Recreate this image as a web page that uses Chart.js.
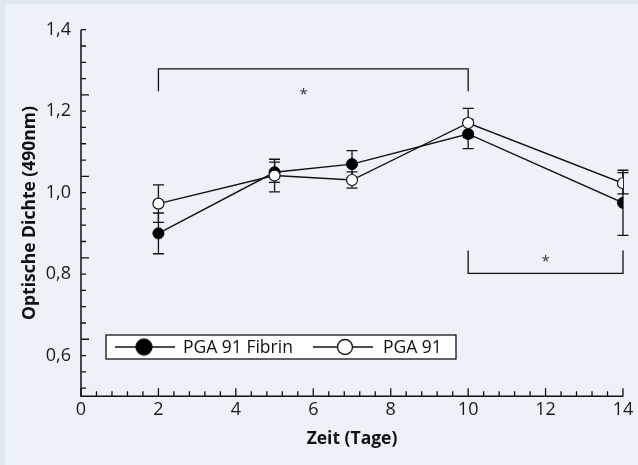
<!DOCTYPE html>
<html>
<head>
<meta charset="utf-8">
<script src="https://cdn.jsdelivr.net/npm/chart.js@4"></script>
<style>
  html, body { margin: 0; padding: 0; background: #dde8f3; }
  #wrap { position: absolute; left: 5px; top: 4px; width: 633px; height: 461px; background: #edf2f9; }
  canvas { position: absolute; left: 0; top: 0; }
</style>
</head>
<body>
<div id="wrap"></div>
<canvas id="chart" width="638" height="465"></canvas>
<script>
// Data
const days = [2, 5, 7, 10, 14];
const fibrinValues = [0.900, 1.050, 1.070, 1.144, 0.975];
const fibrinErrors = [0.050, 0.025, 0.033, 0.036, 0.080];
const pgaValues = [0.973, 1.042, 1.031, 1.171, 1.023];
const pgaErrors = [0.046, 0.040, 0.020, 0.036, 0.026];
const xTicks = [0, 2, 4, 6, 8, 10, 12, 14];
const yTicks = [0.6, 0.8, 1.0, 1.2, 1.4];
const seriesNames = ['PGA 91 Fibrin', 'PGA 91'];
// significance brackets: [xStart, xEnd, yLine, yLegEnd], star at [x, y]
const topBracket = [2, 10, 1.304, 1.249];
const topStar = [5.75, 1.245];
const bottomBracket = [10, 14, 0.802, 0.858];
const bottomStar = [12, 0.836];

const FONT = "'Open Sans', 'Noto Sans', sans-serif";

const fmt = v => v.toFixed(1).replace('.', ',');

// error bars, drawn below the markers
const errorBars = {
  id: 'errorBars',
  beforeDatasetsDraw(chart) {
    const { ctx, scales: { x, y } } = chart;
    ctx.save();
    ctx.strokeStyle = '#111';
    ctx.lineWidth = 1.3;
    [[fibrinValues, fibrinErrors], [pgaValues, pgaErrors]].forEach(([vals, errs]) => {
      vals.forEach((v, i) => {
        const px = x.getPixelForValue(days[i]);
        const top = y.getPixelForValue(v + errs[i]);
        const bot = y.getPixelForValue(v - errs[i]);
        ctx.beginPath();
        ctx.moveTo(px, top); ctx.lineTo(px, bot);
        ctx.moveTo(px - 5.5, top); ctx.lineTo(px + 5.5, top);
        ctx.moveTo(px - 5.5, bot); ctx.lineTo(px + 5.5, bot);
        ctx.stroke();
      });
    });
    ctx.restore();
  }
};

// axes with inward ticks, brackets, legend box
const decorations = {
  id: 'decorations',
  afterDraw(chart) {
    const { ctx, scales: { x, y } } = chart;
    const x0 = x.getPixelForValue(0), x1 = x.getPixelForValue(14);
    const y0 = y.getPixelForValue(0.5), y1 = y.getPixelForValue(1.4);
    ctx.save();
    ctx.strokeStyle = '#111';
    ctx.lineWidth = 1.5;
    ctx.beginPath();
    ctx.moveTo(x0, y1); ctx.lineTo(x0, y0); ctx.lineTo(x1, y0);
    ctx.stroke();
    ctx.lineWidth = 1.3;
    ctx.beginPath();
    for (let i = 0; i <= 35; i++) {
      const px = x.getPixelForValue(i * 0.4);
      const major = i % 5 === 0;
      ctx.moveTo(px, y0); ctx.lineTo(px, y0 - (major ? 8 : 5));
    }
    for (let i = 0; i <= 22; i++) {
      const py = y.getPixelForValue(0.52 + i * 0.04);
      const major = (i + 2) % 5 === 0;
      ctx.moveTo(x0, py); ctx.lineTo(x0 + (major ? 8 : 5), py);
    }
    ctx.stroke();

    // brackets
    [topBracket, bottomBracket].forEach(b => {
      const a = x.getPixelForValue(b[0]), c = x.getPixelForValue(b[1]);
      const l = y.getPixelForValue(b[2]), e = y.getPixelForValue(b[3]);
      ctx.beginPath();
      ctx.moveTo(a, e); ctx.lineTo(a, l); ctx.lineTo(c, l); ctx.lineTo(c, e);
      ctx.stroke();
    });
    ctx.fillStyle = '#333';
    ctx.font = `15px ${FONT}`;
    ctx.textAlign = 'center';
    ctx.textBaseline = 'middle';
    [topStar, bottomStar].forEach(s => {
      ctx.fillText('*', x.getPixelForValue(s[0]), y.getPixelForValue(s[1]) + 2);
    });

    // legend box inside plot
    const lx = 106, ly = 335, lw = 350, lh = 24;
    ctx.fillStyle = '#fff';
    ctx.fillRect(lx, ly, lw, lh);
    ctx.strokeRect(lx, ly, lw, lh);
    const cy = ly + lh / 2;
    const items = [[115, 175, 144, 183, '#000'], [313, 373, 345, 383, '#fff']];
    items.forEach((it, k) => {
      ctx.strokeStyle = '#111';
      ctx.lineWidth = 1.3;
      ctx.beginPath(); ctx.moveTo(it[0], cy); ctx.lineTo(it[1], cy); ctx.stroke();
      ctx.beginPath(); ctx.arc(it[2], cy, k === 0 ? 8 : 7.5, 0, Math.PI * 2);
      ctx.fillStyle = it[4]; ctx.fill(); ctx.stroke();
      ctx.fillStyle = '#111';
      ctx.font = `17.5px ${FONT}`;
      ctx.textAlign = 'left';
      ctx.textBaseline = 'middle';
      ctx.fillText(seriesNames[k], it[3], cy + 1);
    });
    ctx.restore();
  }
};

new Chart(document.getElementById('chart'), {
  type: 'line',
  data: {
    datasets: [
      {
        label: seriesNames[1],
        data: days.map((d, i) => ({ x: d, y: pgaValues[i] })),
        borderColor: '#111', borderWidth: 1.4,
        pointRadius: 5.5, pointBackgroundColor: '#fff', pointBorderColor: '#111', pointBorderWidth: 1.2,
        tension: 0
      },
      {
        label: seriesNames[0],
        data: days.map((d, i) => ({ x: d, y: fibrinValues[i] })),
        borderColor: '#111', borderWidth: 1.4,
        pointRadius: 5.5, pointBackgroundColor: '#000', pointBorderColor: '#000', pointBorderWidth: 1,
        tension: 0
      }
    ]
  },
  options: {
    responsive: false,
    animation: false,
    layout: { padding: { left: 0, right: 15, top: 29.7, bottom: 10 } },
    plugins: { legend: { display: false }, tooltip: { enabled: false } },
    scales: {
      x: {
        type: 'linear', min: 0, max: 14,
        afterBuildTicks: s => { s.ticks = xTicks.map(v => ({ value: v })); },
        afterFit: s => { s.height = 58.7; },
        grid: { display: false, drawTicks: false },
        border: { display: false },
        ticks: { color: '#1a1a1a', font: { family: FONT, size: 18 }, padding: 3, maxRotation: 0 },
        title: { display: true, text: 'Zeit (Tage)', color: '#111', font: { family: FONT, size: 17.5, weight: 'bold' }, padding: { top: 0, bottom: 5 } }
      },
      y: {
        type: 'linear', min: 0.5, max: 1.4,
        afterBuildTicks: s => { s.ticks = yTicks.map(v => ({ value: v })); },
        afterFit: s => { s.width = 81; },
        grid: { display: false, drawTicks: false },
        border: { display: false },
        ticks: { color: '#1a1a1a', font: { family: FONT, size: 18 }, padding: 10, callback: v => fmt(v) },
        title: { display: true, text: 'Optische Dichte (490nm)', color: '#111', font: { family: FONT, size: 17.5, weight: 'bold' }, padding: { top: 19.5, bottom: 0 } }
      }
    }
  },
  plugins: [errorBars, decorations]
});
</script>
</body>
</html>
